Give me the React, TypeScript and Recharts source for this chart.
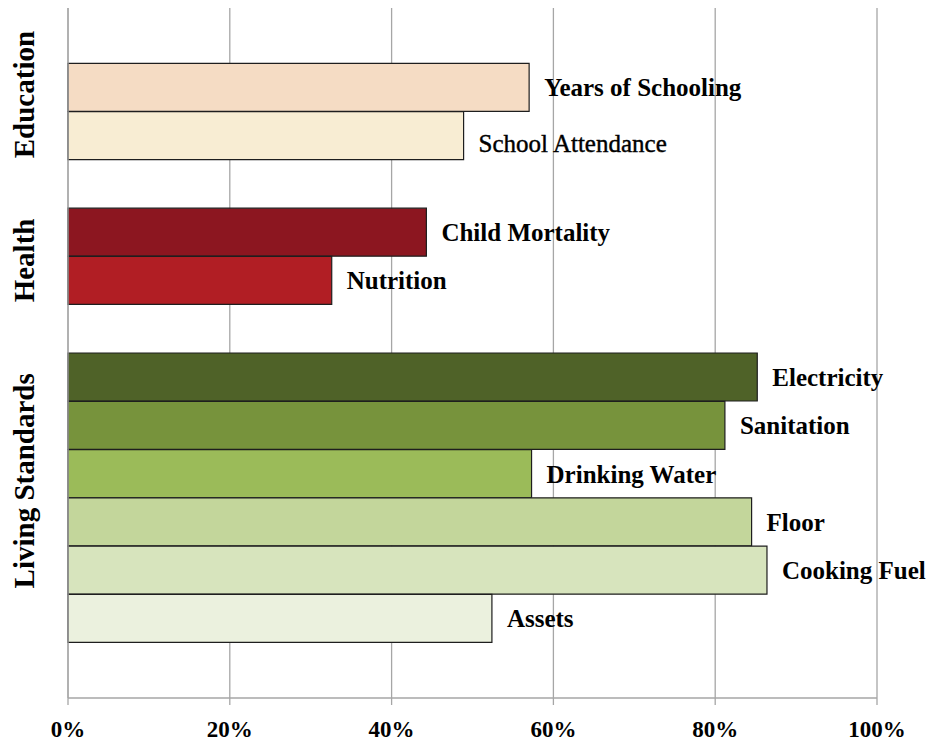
import { BarChart, Bar, XAxis, YAxis, CartesianGrid, Cell, LabelList } from 'recharts'

// Rows top to bottom; the "_gap" rows are empty spacers between dimensions.
const CATEGORIES = [
  '_gap0',
  'Years of Schooling',
  'School Attendance',
  '_gap1',
  'Child Mortality',
  'Nutrition',
  '_gap2',
  'Electricity',
  'Sanitation',
  'Drinking Water',
  'Floor',
  'Cooking Fuel',
  'Assets',
  '_gap3',
]

// Share of the poor deprived in each indicator (%)
const SHARES = [null, 57.0, 48.9, null, 44.3, 32.6, null, 85.2, 81.2, 57.3, 84.5, 86.4, 52.4, null]

const COLORS = [
  'none',
  '#F5DCC4',
  '#F8EDD3',
  'none',
  '#8C1620',
  '#B11E24',
  'none',
  '#4F6228',
  '#77933C',
  '#9BBB59',
  '#C3D69B',
  '#D7E4BD',
  '#EBF1DE',
  'none',
]

const GROUPS = [
  { name: 'Education', first: 'Years of Schooling', count: 2 },
  { name: 'Health', first: 'Child Mortality', count: 2 },
  { name: 'Living Standards', first: 'Electricity', count: 6 },
]

const X_TICKS = [0, 20, 40, 60, 80, 100]

const data = CATEGORIES.map((name, i) => ({ name, value: SHARES[i] }))

const W = 940
const H = 745
const TOP = 8
const X_AXIS_H = 47
const Y_PAD = 7
const BAND = (H - TOP - X_AXIS_H - 2 * Y_PAD) / CATEGORIES.length
const FONT = '"Liberation Serif", "Times New Roman", serif'
const GRID = '#A6A6A6'

// vertical nudge of the rotated group titles
const GROUP_NUDGE: Record<string, number> = { Education: -17, Health: 4, 'Living Standards': -17 }

// labels drawn in the lighter face, nudged down a little
const LIGHT_LABELS: Record<string, number> = { 'School Attendance': 7 }

function GroupTick(props: any) {
  const { y, payload } = props
  const g = GROUPS.find((gr) => gr.first === payload.value)
  if (!g) return <g />
  const cy = y + ((g.count - 1) / 2) * BAND + (GROUP_NUDGE[g.name] ?? 0)
  const cx = 34
  return (
    <text
      x={cx}
      y={cy}
      transform={`rotate(-90, ${cx}, ${cy})`}
      textAnchor="middle"
      fontFamily={FONT}
      fontWeight="bold"
      fontSize={29}
      fill="#000"
    >
      {g.name}
    </text>
  )
}

function BarLabel(props: any) {
  const { x, y, width, height, value } = props
  if (!value || String(value).startsWith('_')) return null
  const light = value in LIGHT_LABELS
  return (
    <text
      x={x + width + 15}
      y={y + height / 2 + 9 + (light ? LIGHT_LABELS[value] : 0)}
      fontFamily={FONT}
      fontWeight={light ? 'normal' : 'bold'}
      fontSize={25}
      fill="#000"
      stroke={light ? '#000' : 'none'}
      strokeWidth={light ? 0.4 : 0}
    >
      {value}
    </text>
  )
}

export default function App() {
  return (
    <div style={{ position: 'absolute', left: 0, top: 0, width: W, height: H, background: '#fff' }}>
      <BarChart
        width={W}
        height={H}
        data={data}
        layout="vertical"
        margin={{ top: TOP, right: 63, left: 0, bottom: 0 }}
        barCategoryGap={0}
        barGap={0}
      >
        <CartesianGrid vertical horizontal={false} stroke={GRID} strokeWidth={1.3} />
        <XAxis
          type="number"
          domain={[0, 100]}
          ticks={X_TICKS}
          tickFormatter={(v: number) => `${v}%`}
          height={X_AXIS_H}
          axisLine={{ stroke: GRID, strokeWidth: 1.3 }}
          tickLine={{ stroke: GRID, strokeWidth: 1.3 }}
          tickSize={7}
          tickMargin={16}
          tick={{ fill: '#000', fontFamily: FONT, fontWeight: 'bold', fontSize: 23 }}
          interval={0}
        />
        <YAxis
          type="category"
          dataKey="name"
          width={68}
          padding={{ top: Y_PAD, bottom: Y_PAD }}
          axisLine={{ stroke: GRID, strokeWidth: 1.3 }}
          tickLine={false}
          tick={<GroupTick />}
          interval={0}
        />
        <Bar dataKey="value" stroke="#1E1E1E" strokeWidth={1.2} isAnimationActive={false}>
          {data.map((d, i) => (
            <Cell key={d.name} fill={COLORS[i]} />
          ))}
          <LabelList dataKey="name" content={<BarLabel />} />
        </Bar>
      </BarChart>
    </div>
  )
}
